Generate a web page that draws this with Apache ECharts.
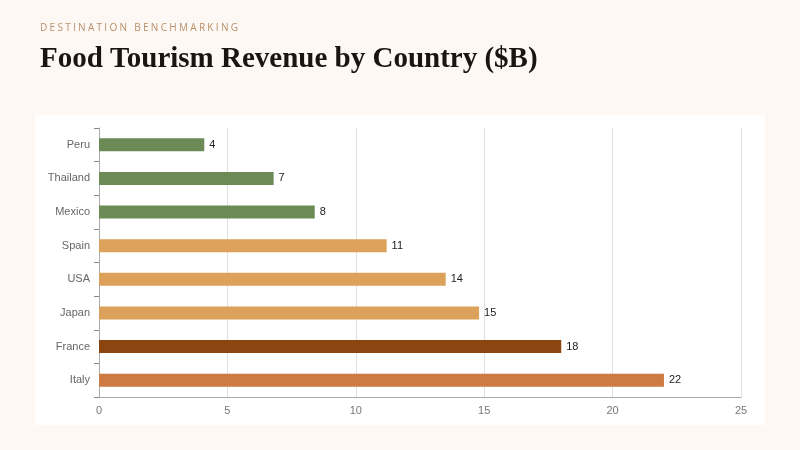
<!DOCTYPE html>
<html>
<head>
<meta charset="utf-8" />
<title>Food Tourism Revenue by Country</title>
<script src="https://cdn.jsdelivr.net/npm/echarts@6/dist/echarts.min.js"></script>
<style>
  body { margin: 0; background: #fdf8f4; }
  #wrap { position: relative; width: 800px; height: 450px; }
  #main { width: 800px; height: 450px; }
  #kicker { position: absolute; left: 40px; top: 20px; font: 10px 'Open Sans', sans-serif; letter-spacing: 2.3px; color: #b8906a; z-index: 2; }
</style>
</head>
<body>
<div id="wrap">
<div id="kicker">DESTINATION BENCHMARKING</div>
<div id="main"></div>
</div>
<script type="text/javascript">
// data, bottom to top as drawn
var countries = ["Italy", "France", "Japan", "USA", "Spain", "Mexico", "Thailand", "Peru"];
var revenue = [22, 18, 14.8, 13.5, 11.2, 8.4, 6.8, 4.1];
var barColors = ["#cd7b42", "#8b4511", "#dca15a", "#dca15a", "#dca15a", "#6b8a55", "#6b8a55", "#6b8a55"];
var xTicks = [0, 5, 10, 15, 20, 25];

var myChart = echarts.init(document.getElementById("main"));

var option = {
  backgroundColor: "#fdf8f4",
  graphic: [
    { type: "rect", left: 35, top: 115, shape: { width: 730, height: 310 }, style: { fill: "#ffffff" }, z: -10 },
    { type: "text", left: 40, top: 45, style: { text: "Food Tourism Revenue by Country ($B)", fill: "#1c1410", font: "bold 29px 'Liberation Serif', Georgia, serif" } }
  ],
  grid: { left: 99, right: 59, top: 128, bottom: 53 },
  xAxis: {
    type: "value",
    min: 0, max: 25, interval: 5,
    axisLine: { show: true, lineStyle: { color: "#aaa" } },
    axisTick: { show: false },
    axisLabel: { color: "#777", fontSize: 11, formatter: function (v) { return xTicks.indexOf(v) >= 0 ? v : ""; } },
    splitLine: { lineStyle: { color: "#e4e0e0" } }
  },
  yAxis: {
    type: "category",
    data: countries,
    axisLine: { lineStyle: { color: "#aaa" } },
    axisTick: { show: true, lineStyle: { color: "#888" } },
    axisLabel: { color: "#666", fontSize: 11, margin: 9 }
  },
  series: [{
    type: "bar",
    barWidth: 13,
    data: revenue.map(function (v, i) { return { value: v, itemStyle: { color: barColors[i] } }; }),
    label: { show: true, position: "right", color: "#222", fontSize: 11, formatter: function (p) { return Math.round(p.value); } }
  }]
};

myChart.setOption(option);
</script>
</body>
</html>
